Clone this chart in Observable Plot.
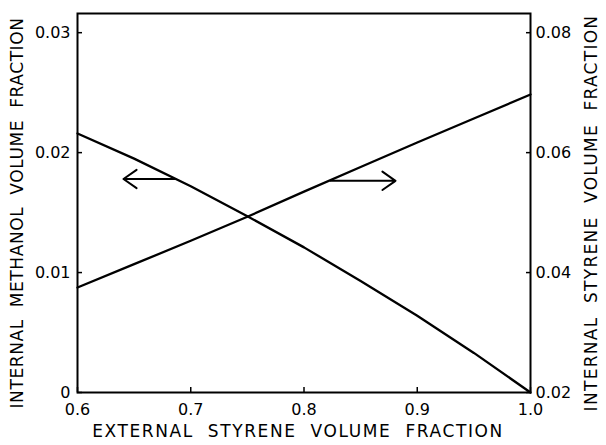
<!DOCTYPE html>
<html>
<head>
<meta charset="utf-8">
<script src="https://cdn.jsdelivr.net/npm/d3@7"></script>
<script src="https://cdn.jsdelivr.net/npm/@observablehq/plot@0.6"></script>
<style>
  html, body { margin: 0; padding: 0; background: #fff; }
  svg { font-family: "DejaVu Sans", sans-serif; }
  .tleft text { letter-spacing: 0.6px; }
  .tright text { letter-spacing: 1.3px; }
  .tx text { letter-spacing: 1.6px; }
</style>
</head>
<body>
<div id="chart"></div>
<script>
// External styrene volume fraction (x)
const externalStyrene = [0.6, 0.65, 0.7, 0.75, 0.8, 0.85, 0.9, 0.95, 1.0];
// Internal methanol volume fraction (left axis)
const internalMethanol = [0.0216, 0.0195, 0.0172, 0.0147, 0.0121, 0.0093, 0.0064, 0.0033, 0.0];
// Internal styrene volume fraction (right axis)
const internalStyrene = [0.0375, 0.0414, 0.0453, 0.0493, 0.0535, 0.0576, 0.0617, 0.0657, 0.0697];

const xTicks = [0.6, 0.7, 0.8, 0.9, 1.0];
const leftTicks = [0, 0.01, 0.02, 0.03];
const rightTicks = [0.02, 0.04, 0.06, 0.08];

// Arrows: x from -> x to, at level y (in each curve's own axis units)
const arrowMethanol = {x1: 0.6865, x2: 0.6406, y: 0.0178};   // points to left axis
const arrowStyrene = {x1: 0.8234, x2: 0.8808, y: 0.0553};    // points to right axis

const leftLabel = "INTERNAL  METHANOL  VOLUME  FRACTION";
const rightLabel = "INTERNAL  STYRENE  VOLUME  FRACTION";
const xLabel = "EXTERNAL  STYRENE  VOLUME  FRACTION";

// right axis mapped onto the left (primary) y scale
const rightToLeft = v => (v - 0.02) / 2;

const methanolData = externalStyrene.map((x, i) => ({x, y: internalMethanol[i]}));
const styreneData = externalStyrene.map((x, i) => ({x, y: rightToLeft(internalStyrene[i])}));
const arrows = [
  {x1: arrowMethanol.x1, x2: arrowMethanol.x2, y: arrowMethanol.y},
  {x1: arrowStyrene.x1, x2: arrowStyrene.x2, y: rightToLeft(arrowStyrene.y)}
];

const chart = Plot.plot({
  width: 606,
  height: 445,
  marginLeft: 77,
  marginRight: 76,
  marginTop: 13,
  marginBottom: 53,
  style: {fontSize: "16px", fontFamily: "DejaVu Sans, sans-serif", color: "#000", background: "#fff"},
  x: {domain: [0.6, 1.0]},
  y: {domain: [0, 0.0316]},
  marks: [
    Plot.frame({stroke: "#000", strokeWidth: 2}),
    Plot.axisX(xTicks, {anchor: "bottom", tickSize: -5, tickPadding: 16, tickFormat: d => d.toFixed(1), label: null, strokeWidth: 1.5}),
    Plot.axisY(leftTicks, {anchor: "left", tickSize: -5, tickPadding: 12, tickFormat: d => d === 0 ? "0" : d.toFixed(2), label: null, strokeWidth: 1.5}),
    Plot.axisY(rightTicks.map(rightToLeft), {anchor: "right", tickSize: -5, tickPadding: 10, tickFormat: d => (d * 2 + 0.02).toFixed(2), label: null, strokeWidth: 1.5}),
    Plot.line(methanolData, {x: "x", y: "y", stroke: "#000", strokeWidth: 2.3}),
    Plot.line(styreneData, {x: "x", y: "y", stroke: "#000", strokeWidth: 2.3}),
    Plot.arrow(arrows, {x1: "x1", x2: "x2", y1: "y", y2: "y", stroke: "#000", strokeWidth: 2, headLength: 12, headAngle: 70, bend: 0}),
    Plot.text([leftLabel], {text: d => d, frameAnchor: "left", textAnchor: "middle", rotate: -90, dx: -60, dy: 10, fontSize: 17, className: "tleft"}),
    Plot.text([rightLabel], {text: d => d, frameAnchor: "right", textAnchor: "middle", rotate: -90, dx: 61, dy: 10, fontSize: 17, className: "tright"}),
    Plot.text([xLabel], {text: d => d, frameAnchor: "bottom", textAnchor: "middle", dx: -6, dy: 44, fontSize: 17, className: "tx"})
  ]
});
document.getElementById("chart").appendChild(chart);
</script>
</body>
</html>
